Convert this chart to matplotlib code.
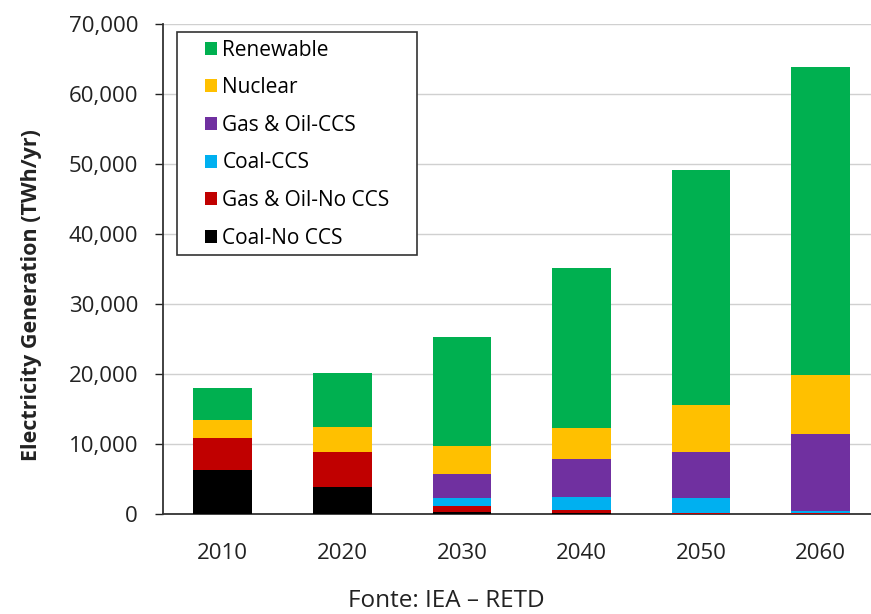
import matplotlib
matplotlib.use('Agg')
import matplotlib.pyplot as plt
from matplotlib.patches import Rectangle
from matplotlib.ticker import FuncFormatter

plt.rcParams['font.family'] = ['Open Sans', 'DejaVu Sans']

years = ['2010', '2020', '2030', '2040', '2050', '2060']

# TWh/yr (bottom to top)
coal_no_ccs = [6300, 3900, 300, 100, 50, 50]
gas_oil_no_ccs = [4600, 5000, 850, 470, 100, 80]
coal_ccs = [0, 0, 1100, 1900, 2150, 300]
gas_oil_ccs = [0, 0, 3450, 5390, 6600, 10960]
nuclear = [2550, 3550, 4050, 4470, 6670, 8470]
renewable = [4550, 7690, 15580, 22770, 33570, 44040]

series = [
    ('Coal-No CCS', coal_no_ccs, '#000000'),
    ('Gas & Oil-No CCS', gas_oil_no_ccs, '#C00000'),
    ('Coal-CCS', coal_ccs, '#00B0F0'),
    ('Gas & Oil-CCS', gas_oil_ccs, '#7030A0'),
    ('Nuclear', nuclear, '#FFC000'),
    ('Renewable', renewable, '#00B050'),
]

W, H = 871, 614
fig = plt.figure(figsize=(W / 100, H / 100), dpi=100)
ax = fig.add_axes([163 / W, 1 - 514 / H, 1 - 163 / W, 490 / H])

x = list(range(len(years)))
bottom = [0] * len(years)
for name, vals, col in series:
    ax.bar(x, vals, 0.49, bottom=bottom, color=col, label=name, zorder=3)
    bottom = [b + v for b, v in zip(bottom, vals)]

ax.set_ylim(0, 70000)
ax.set_xlim(-0.5, 5.42)
ax.set_yticks(range(0, 70001, 10000))
ax.yaxis.set_major_formatter(FuncFormatter(lambda v, p: f'{int(v):,}'))
ax.set_xticks(x)
ax.set_xticklabels(years)
ax.grid(axis='y', color='#d0d0d0', lw=1, zorder=0)
for s in ['top', 'right']:
    ax.spines[s].set_visible(False)
ax.spines['left'].set_color('#333333')
ax.spines['bottom'].set_color('#333333')
ax.spines['left'].set_linewidth(1.3)
ax.spines['bottom'].set_linewidth(1.3)
ax.tick_params(axis='y', length=6, width=1, colors='#222222', labelsize=16, pad=12)
ax.tick_params(axis='x', length=0, labelsize=16, pad=21, colors='#222222')

ax.set_ylabel('Electricity Generation (TWh/yr)', fontsize=15.5, fontweight='bold',
              color='#222222')
ax.yaxis.set_label_coords(-0.171, 0.447)

# legend box drawn by hand so the padding can match
box = Rectangle((177 / W, 1 - 255 / H), 240 / W, 223 / H, transform=fig.transFigure,
                facecolor='white', edgecolor='#333333', lw=1.2, zorder=4)
ax.add_patch(box)

h, l = ax.get_legend_handles_labels()
leg = ax.legend(h[::-1], l[::-1], loc='upper left',
                bbox_to_anchor=(205 / W, 1 - 39.5 / H), bbox_transform=fig.transFigure,
                fontsize=15, frameon=False,
                handlelength=0.58, handleheight=0.58, handletextpad=0.25,
                labelspacing=0.8, borderpad=0, borderaxespad=0)
leg.set_zorder(5)

fig.text(446 / W, 1 - 601 / H, 'Fonte: IEA \u2013 RETD', ha='center', va='center',
         fontsize=17.5, color='#222222')

fig.savefig('out.png', dpi=100)
